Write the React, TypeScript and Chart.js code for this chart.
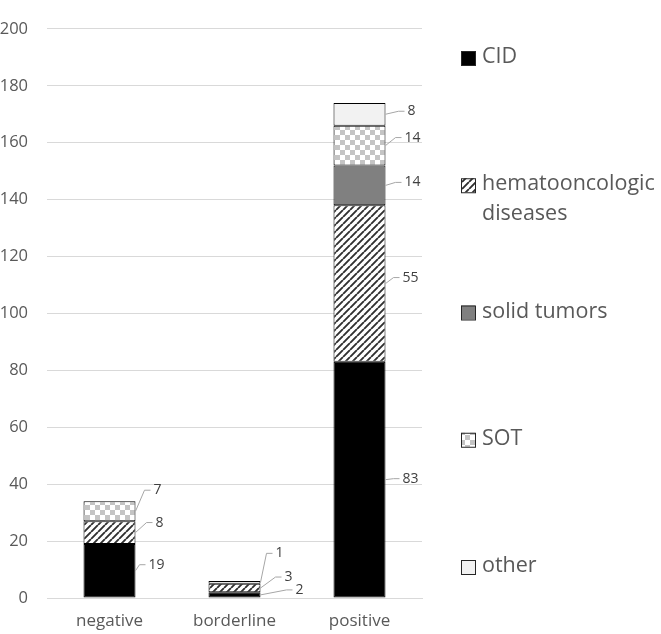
import React, { useEffect, useRef } from "react";
import { Chart, registerables } from "chart.js";

Chart.register(...registerables);

const categories = ["negative", "borderline", "positive"];
const cidValues = [19, 2, 83];
const hematoValues = [8, 3, 55];
const solidValues = [0, 0, 14];
const sotValues = [7, 0, 14];
const otherValues = [0, 1, 8];
const seriesNames = [["CID"], ["hematooncologic", "diseases"], ["solid tumors"], ["SOT"], ["other"]];
const yTicks = [0, 20, 40, 60, 80, 100, 120, 140, 160, 180, 200];

const FONT = "'Open Sans', 'DejaVu Sans', sans-serif";
const TEXT = "#595959";

// label nudges (dx from bar right edge, dy from segment centre) per [dataset][category]
const LABEL_DX = [
  [13, 35, 17],
  [20, 24, 17],
  [18, 18, 19],
  [18, 18, 19],
  [18, 15, 22],
];
const LABEL_DY = [
  [-6, -5, -1],
  [-10, -11, -6],
  [0, 0, -3],
  [-21, 0, -8],
  [0, -29, -3],
];

function makeHatch(): CanvasPattern | string {
  const c = document.createElement("canvas");
  const s = 7;
  c.width = s;
  c.height = s;
  const ctx = c.getContext("2d")!;
  ctx.fillStyle = "#ffffff";
  ctx.fillRect(0, 0, s, s);
  ctx.strokeStyle = "#303030";
  ctx.lineWidth = 1.9;
  ctx.beginPath();
  for (let k = -1; k <= 1; k++) {
    ctx.moveTo(k * s, s);
    ctx.lineTo(k * s + s, 0);
  }
  ctx.stroke();
  return ctx.createPattern(c, "repeat") || "#888";
}

function makeChecker(): CanvasPattern | string {
  const c = document.createElement("canvas");
  const s = 10;
  c.width = s;
  c.height = s;
  const ctx = c.getContext("2d")!;
  ctx.fillStyle = "#ffffff";
  ctx.fillRect(0, 0, s, s);
  ctx.fillStyle = "#c4c4c4";
  ctx.fillRect(0, 0, s / 2, s / 2);
  ctx.fillRect(s / 2, s / 2, s / 2, s / 2);
  return ctx.createPattern(c, "repeat") || "#ccc";
}

export default function App() {
  const ref = useRef<HTMLCanvasElement>(null);

  useEffect(() => {
    if (!ref.current) return;
    const hatch = makeHatch();
    const checker = makeChecker();
    const fills = ["#000000", hatch, "#808080", checker, "#f2f2f2"];
    const values = [cidValues, hematoValues, solidValues, sotValues, otherValues];

    const labelPlugin = {
      id: "segLabels",
      afterDatasetsDraw(chart: any) {
        const ctx = chart.ctx;
        ctx.save();
        ctx.font = `14px ${FONT}`;
        ctx.fillStyle = "#404040";
        ctx.strokeStyle = "#a6a6a6";
        ctx.lineWidth = 1;
        ctx.textBaseline = "middle";
        ctx.textAlign = "left";
        chart.data.datasets.forEach((ds: any, i: number) => {
          const meta = chart.getDatasetMeta(i);
          meta.data.forEach((el: any, j: number) => {
            const v = ds.data[j];
            if (!v) return;
            const right = el.x + el.width / 2;
            const cy = (el.y + el.base) / 2;
            const tx = right + LABEL_DX[i][j];
            const ty = cy + LABEL_DY[i][j];
            ctx.beginPath();
            ctx.moveTo(right, cy);
            ctx.lineTo(Math.max(right + 2, tx - 9), ty);
            ctx.lineTo(tx - 3, ty);
            ctx.stroke();
            ctx.fillText(String(v), tx, ty);
          });
        });
        ctx.restore();
      },
    };

    const legendPlugin = {
      id: "customLegend",
      afterDraw(chart: any) {
        const ctx = chart.ctx;
        ctx.save();
        ctx.font = `21.5px ${FONT}`;
        ctx.textBaseline = "middle";
        ctx.textAlign = "left";
        seriesNames.forEach((lines, i) => {
          const cy = 58 + i * 127.25;
          ctx.fillStyle = fills[i];
          ctx.fillRect(461, cy - 7, 14, 14);
          ctx.strokeStyle = "#262626";
          ctx.lineWidth = 1;
          ctx.strokeRect(461.5, cy - 6.5, 14, 14);
          ctx.fillStyle = TEXT;
          lines.forEach((t, k) => {
            ctx.fillText(t, 482, cy - 1 + k * 30);
          });
        });
        ctx.restore();
      },
    };

    const chart = new Chart(ref.current, {
      type: "bar",
      data: {
        labels: categories,
        datasets: values.map((d, i) => ({
          label: seriesNames[i].join(" "),
          data: d,
          backgroundColor: fills[i] as any,
          borderColor: "#000000",
          borderWidth: 1,
          borderSkipped: false,
          barPercentage: 0.416,
          categoryPercentage: 1,
        })),
      },
      options: {
        responsive: false,
        animation: false,
        devicePixelRatio: 1,
        layout: { padding: { top: 14, right: 239, left: 0, bottom: 0 } },
        plugins: { legend: { display: false }, tooltip: { enabled: false } },
        scales: {
          x: {
            stacked: true,
            grid: { display: false },
            border: { display: true, color: "#d9d9d9" },
            ticks: { color: TEXT, font: { family: FONT, size: 17 }, padding: 5 },
            afterFit(scale: any) {
              scale.height = 36;
            },
          },
          y: {
            stacked: true,
            min: 0,
            max: 200,
            afterBuildTicks(scale: any) {
              scale.ticks = yTicks.map((v) => ({ value: v }));
            },
            grid: { color: "#d9d9d9", drawTicks: false },
            border: { display: false },
            ticks: { color: TEXT, font: { family: FONT, size: 16.5 }, padding: 19 },
            afterFit(scale: any) {
              scale.width = 47;
            },
          },
        },
      },
      plugins: [labelPlugin, legendPlugin],
    });
    return () => chart.destroy();
  }, []);

  return (
    <div style={{ position: "absolute", left: 0, top: 0, width: 661, height: 634, background: "#fff" }}>
      <canvas ref={ref} width={661} height={634} style={{ display: "block" }} />
    </div>
  );
}
